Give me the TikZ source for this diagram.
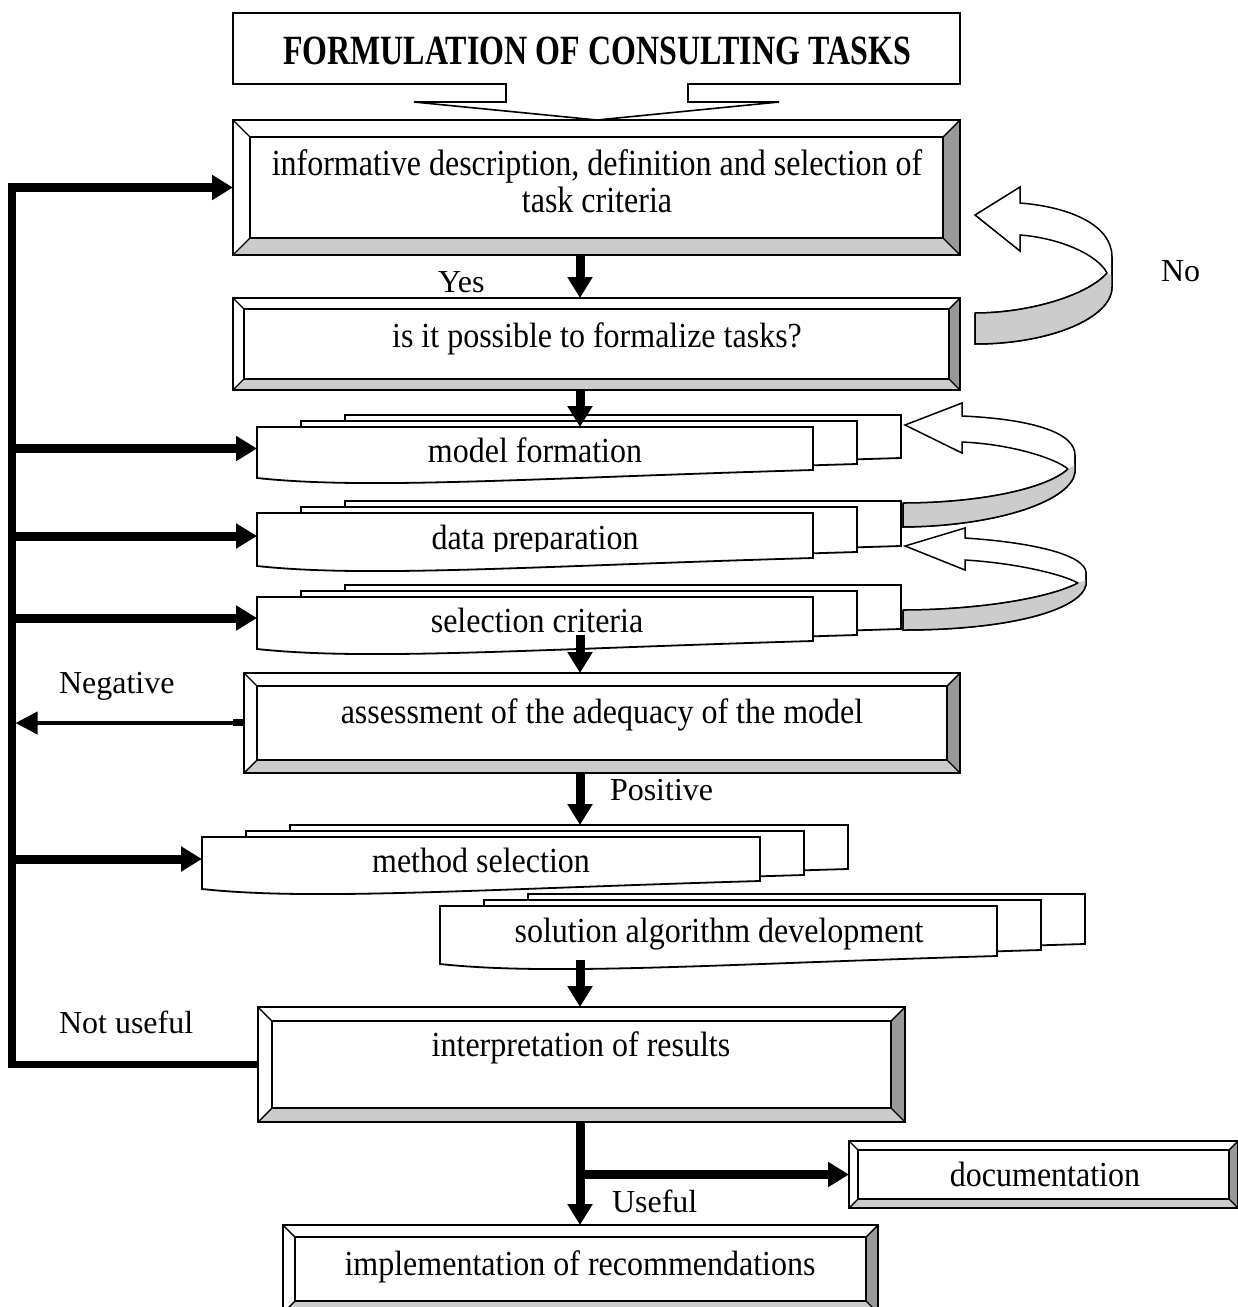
\documentclass[tikz,border=0pt]{standalone}
\usepackage{fontspec}
\usepackage{graphicx}
\setmainfont{Liberation Serif}
\usetikzlibrary{arrows.meta,calc}
\definecolor{bevlight}{HTML}{CCCCCC}
\definecolor{bevdark}{HTML}{999999}

% box captions are set slightly taller than the plain labels
\newcommand{\tall}[2][1.1]{\scalebox{1}[#1]{#2}}

\tikzset{
  frame/.style={inner sep=0pt, outer sep=0pt, draw=none},
  lbl/.style={inner sep=0pt, outer sep=0pt, anchor=base, font=\fontsize{32}{37}\selectfont},
  lblw/.style={lbl, anchor=base west},
  bevline/.style={line width=1.4pt, line join=miter},
  docline/.style={line width=1.8pt, line join=miter},
  ribline/.style={line width=1.5pt, line join=miter},
  fat/.style={line width=9pt, -{Triangle[length=21pt,width=24pt]}},
  busline/.style={line width=7.5pt, line join=miter},
  thinarr/.style={line width=4pt, -{Triangle[length=22pt,width=22pt]}},
}

% bevelled frame around a named node: #1 node name, #2 bevel width
\newcommand{\bevelbox}[2]{%
  \coordinate (o1) at (#1.north west);
  \coordinate (o2) at (#1.north east);
  \coordinate (o3) at (#1.south east);
  \coordinate (o4) at (#1.south west);
  \coordinate (i1) at ($(o1)+(#2,#2)$);
  \coordinate (i2) at ($(o2)+(-#2,#2)$);
  \coordinate (i3) at ($(o3)+(-#2,-#2)$);
  \coordinate (i4) at ($(o4)+(#2,-#2)$);
  \fill[white] (o1)--(o2)--(i2)--(i1)--cycle;
  \fill[white] (o1)--(i1)--(i4)--(o4)--cycle;
  \fill[bevdark] (o2)--(o3)--(i3)--(i2)--cycle;
  \fill[bevlight] (o4)--(i4)--(i3)--(o3)--cycle;
  \fill[white] (i1) rectangle (i3);
  \draw[bevline] (o1) rectangle (o3);
  \draw[bevline] (o1)--(i1) (o2)--(i2) (o3)--(i3) (o4)--(i4);
  \draw[line width=2pt] (i1) rectangle (i3);
}

% one page with a wavy lower edge: top-left x, y, width, height
\newcommand{\docpage}[4]{%
  \filldraw[docline, fill=white] ({#1},{#2}) -- ({#1+#3},{#2}) -- ({#1+#3},{#2+#4-8})
    .. controls ({#1+0.5*#3},{#2+#4}) and ({#1+0.2*#3},{#2+#4+12}) .. ({#1},{#2+#4}) -- cycle;
}

% stack of three pages; the front page gets the node name #1
\newcommand{\multidoc}[5]{%
  \docpage{#2+88}{#3-12}{#4}{#5}
  \docpage{#2+44}{#3-6}{#4}{#5}
  \docpage{#2}{#3}{#4}{#5}
  \node[frame, anchor=north west, minimum width=#4pt, minimum height=#5pt] (#1) at (#2,#3) {};
}

\begin{document}
\begin{tikzpicture}[x=1pt, y=-1pt]
\useasboundingbox (0,0) rectangle (1238,1307);
\fill[white] (0,0) rectangle (1238,1307);

\coordinate (spine) at (580,0);
\coordinate (bus) at (12,0);

% ---- title block with its funnel-shaped lower edge
\node[frame, minimum width=727pt, minimum height=71pt] (title) at (596.5,48.5) {};
\draw[line width=1.6pt, line join=miter, fill=white]
  (title.north west) -- (title.north east) -- (title.south east) -- (688,84) -- (688,102)
  -- (779,102) -- (597,120) -- (414,102) -- (506,102) -- (506,84) -- (title.south west) -- cycle;
\node[lbl, font=\fontsize{32}{37}\selectfont\bfseries] (ttitle) at (597,64) {\tall[1.3]{FORMULATION OF CONSULTING TASKS}};

% ---- bevelled process boxes
\node[frame, minimum width=727pt, minimum height=135pt] (b2) at (596.5,187.5) {};
\bevelbox{b2}{17}
\node[lbl] (t2a) at (597,175) {\tall[1.15]{informative description, definition and selection of}};
\node[lbl] (t2b) at (597,212) {\tall[1.15]{task criteria}};

\node[frame, minimum width=727pt, minimum height=92pt] (b3) at (596.5,344) {};
\bevelbox{b3}{11}
\node[lbl] (t3) at (597,347) {\tall{is it possible to formalize tasks?}};

\node[frame, minimum width=716pt, minimum height=100pt] (assess) at (602,723) {};
\bevelbox{assess}{13}
\node[lbl] (tassess) at (602,723) {\tall{assessment of the adequacy of the model}};

\node[frame, minimum width=647pt, minimum height=115pt] (interp) at (581.5,1064.5) {};
\bevelbox{interp}{14}
\node[lbl] (tinterp) at (581,1056) {\tall{interpretation of results}};

\node[frame, minimum width=389pt, minimum height=67pt] (docu) at (1043.5,1174.5) {};
\bevelbox{docu}{9}
\node[lbl] (tdocu) at (1045,1186) {\tall{documentation}};

\node[frame, minimum width=595pt, minimum height=88pt] (impl) at (580.5,1269) {};
\bevelbox{impl}{12}
\node[lbl] (timpl) at (580,1275) {\tall{implementation of recommendations}};

% ---- stacked documents
\multidoc{model}{257}{427}{556}{51}
\node[lbl] (tmodel) at (535,462) {\tall{model formation}};

\multidoc{data}{257}{513}{556}{53}
\begin{scope}
  \clip (257,500) rectangle (813,551);
  \node[lbl] (tdata) at (535,549) {\tall{data preparation}};
\end{scope}

\multidoc{select}{257}{597}{556}{52}
\node[lbl] (tselect) at (537,632) {\tall{selection criteria}};

\multidoc{method}{202}{837}{558}{52}
\node[lbl] (tmethod) at (481,872) {\tall{method selection}};

\multidoc{solution}{440}{906}{557}{58}
\node[lbl] (tsolution) at (719,942) {\tall{solution algorithm development}};

% ---- curled return arrows
% "No" loop beside the first two boxes
\filldraw[ribline, fill=white] (1020,203) .. controls (1070,207) and (1112,225) .. (1112,257)
  -- (1112,287) .. controls (1112,318) and (1050,344) .. (975,344) -- (975,313)
  .. controls (1030,313) and (1088,295) .. (1107,273)
  .. controls (1098,255) and (1060,238) .. (1020,235)
  -- (1020,251) -- (975,215) -- (1020,187) -- cycle;
\fill[bevlight] (975,313) .. controls (1030,313) and (1088,295) .. (1107,273) -- (1112,276)
  -- (1112,287) .. controls (1112,318) and (1050,344) .. (975,344) -- cycle;
\draw[ribline] (975,313) .. controls (1030,313) and (1088,295) .. (1107,273);
\draw[ribline] (1112,257) -- (1112,287) .. controls (1112,318) and (1050,344) .. (975,344) -- (975,313);

% loop from data preparation back to model formation
\filldraw[ribline, fill=white] (962,416) .. controls (1030,419) and (1075,432) .. (1075,455)
  -- (1075,472) .. controls (1072,500) and (1000,526) .. (903,527) -- (903,503)
  .. controls (975,503) and (1045,490) .. (1068,469)
  .. controls (1055,458) and (1010,444) .. (962,442)
  -- (962,453) -- (905,425) -- (962,403) -- cycle;
\fill[bevlight] (903,503) .. controls (975,503) and (1045,490) .. (1068,469) -- (1075,465)
  -- (1075,472) .. controls (1072,500) and (1000,526) .. (903,527) -- cycle;
\draw[ribline] (903,503) .. controls (975,503) and (1045,490) .. (1068,469);
\draw[ribline] (1075,455) -- (1075,472) .. controls (1072,500) and (1000,526) .. (903,527) -- (903,503);

% loop from selection criteria back to data preparation
\filldraw[ribline, fill=white] (965,538) .. controls (1040,543) and (1084,556) .. (1086,572)
  -- (1086,585) .. controls (1080,610) and (1010,630) .. (903,630) -- (903,610)
  .. controls (970,610) and (1045,600) .. (1078,583)
  .. controls (1062,574) and (1015,563) .. (965,560)
  -- (965,570) -- (905,546) -- (965,528) -- cycle;
\fill[bevlight] (903,610) .. controls (970,610) and (1045,600) .. (1078,583) -- (1086,580)
  -- (1086,585) .. controls (1080,610) and (1010,630) .. (903,630) -- cycle;
\draw[ribline] (903,610) .. controls (970,610) and (1045,600) .. (1078,583);
\draw[ribline] (1086,572) -- (1086,585) .. controls (1080,610) and (1010,630) .. (903,630) -- (903,610);

% ---- main flow arrows
\draw[fat] (b2.south -| spine) -- (b3.north -| spine);
\draw[fat] (b3.south -| spine) -- (model.north -| spine);
\coordinate (sstart) at ($(select.south)+(0,-14)$);
\draw[fat] (sstart -| spine) -- (assess.north -| spine);
\coordinate (mtop) at ($(method.north)+(0,-12)$);
\draw[fat] (assess.south -| spine) -- (mtop -| spine);
\coordinate (solend) at ($(solution.south)+(0,-4)$);
\draw[fat] (solend -| spine) -- (interp.north -| spine);
\draw[fat] (interp.south -| spine) -- (impl.north -| spine);
\draw[fat] (docu.west -| spine) -- (docu.west);

% ---- feedback bus on the left
\coordinate (bustop) at ($(b2.west)+(0,-4.5)$);
\draw[busline] (bustop -| bus) -- (interp.west -| bus) -- (interp.west);
\draw[fat] (b2.west -| bus) -- (b2.west);
\coordinate (rmodel) at ($(model.west)+(0,-4)$);
\draw[fat] (rmodel -| bus) -- (rmodel);
\coordinate (rdata) at ($(data.west)+(0,-3.5)$);
\draw[fat] (rdata -| bus) -- (rdata);
\coordinate (rselect) at ($(select.west)+(0,-5)$);
\draw[fat] (rselect -| bus) -- (rselect);
\coordinate (rmethod) at ($(method.west)+(0,-4)$);
\draw[fat] (rmethod -| bus) -- (rmethod);
\fill ($(assess.west)+(-11,-4)$) rectangle ($(assess.west)+(0,3)$);
\draw[thinarr, shorten >=3.5pt] (assess.west) -- (assess.west -| bus);

% ---- branch labels
\node[lblw] (lyes) at (438,292) {Yes};
\node[lblw] (lno) at (1161,281) {No};
\node[lblw] (lneg) at (59,693) {Negative};
\node[lblw] (lpos) at (610,800) {Positive};
\node[lblw] (lnot) at (59,1033) {Not useful};
\node[lblw] (luse) at (612,1212) {Useful};
\end{tikzpicture}
\end{document}
